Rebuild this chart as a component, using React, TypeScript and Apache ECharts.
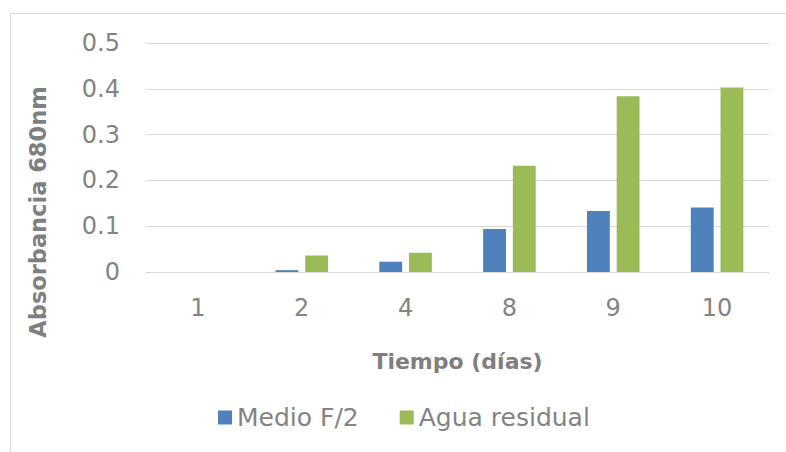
import React, { useEffect, useRef } from "react";
import * as echarts from "echarts";

const categories = ["1", "2", "4", "8", "9", "10"];
const medioF2 = [0, 0.004, 0.0225, 0.094, 0.133, 0.141];
const aguaResidual = [0, 0.036, 0.042, 0.232, 0.384, 0.403];
const seriesNames = ["Medio F/2", "Agua residual"];
const xTitle = "Tiempo (días)";
const yTitle = "Absorbancia 680nm";

const FONT = "'DejaVu Sans', sans-serif";

export default function App() {
  const ref = useRef<HTMLDivElement>(null);
  useEffect(() => {
    if (!ref.current) return;
    const chart = echarts.init(ref.current, undefined, { renderer: "svg" });
    chart.setOption({
      animation: false,
      backgroundColor: "#ffffff",
      textStyle: { fontFamily: FONT },
      grid: { left: 146, right: 17, top: 43, bottom: 180, containLabel: false },
      legend: {
        data: seriesNames,
        bottom: 17,
        left: 213,
        itemWidth: 14,
        itemHeight: 14,
        itemGap: 41,
        icon: "rect",
        textStyle: { fontFamily: FONT, fontSize: 25, color: "#838383" },
      },
      graphic: [
        {
          type: "rect",
          shape: { x: 10.5, y: 13.5, width: 800, height: 460 },
          style: { fill: "none", stroke: "#d9d9d9", lineWidth: 1 },
          silent: true,
        },
        {
          type: "text",
          x: 38,
          y: 212,
          rotation: Math.PI / 2,
          style: {
            text: yTitle,
            fontFamily: FONT,
            fontSize: 22.5,
            fontWeight: "bold",
            fill: "#7f7f7f",
            textAlign: "center",
            textVerticalAlign: "middle",
          },
        },
      ],
      xAxis: {
        type: "category",
        data: categories,
        name: xTitle,
        nameLocation: "middle",
        nameGap: 78,
        nameTextStyle: { fontFamily: FONT, fontSize: 22, fontWeight: "bold", color: "#7f7f7f" },
        axisLine: { show: true, lineStyle: { color: "#d9d9d9", width: 1 } },
        axisTick: { show: false },
        axisLabel: { fontFamily: FONT, fontSize: 24, color: "#838383", margin: 24 },
      },
      yAxis: {
        type: "value",
        min: 0,
        max: 0.5,
        interval: 0.1,
        axisLine: { show: false },
        axisTick: { show: false },
        splitLine: { lineStyle: { color: "#d9d9d9", width: 1 } },
        axisLabel: {
          fontFamily: FONT,
          fontSize: 24,
          color: "#838383",
          margin: 26,
          formatter: (v: number) => (v === 0 ? "0" : String(Math.round(v * 10) / 10)),
        },
      },
      series: [
        {
          name: seriesNames[0],
          type: "bar",
          data: medioF2,
          barWidth: "22%",
          barGap: "30%",
          itemStyle: { color: "#4f81bd" },
        },
        {
          name: seriesNames[1],
          type: "bar",
          data: aguaResidual,
          barWidth: "22%",
          barGap: "30%",
          itemStyle: { color: "#9bbb59" },
        },
      ],
    });
    return () => chart.dispose();
  }, []);
  return (
    <div
      ref={ref}
      style={{ position: "fixed", left: 0, top: 0, width: 786, height: 452 }}
    />
  );
}
